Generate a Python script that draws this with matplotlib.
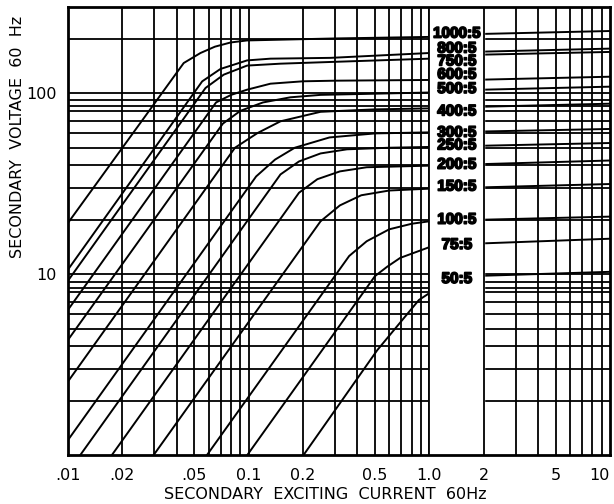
import matplotlib
matplotlib.use("Agg")
from matplotlib import pyplot as plt
from matplotlib.ticker import NullLocator
import matplotlib.patheffects as pe

# CT ratio labels, top to bottom
ratios = ["1000:5", "800:5", "750:5", "600:5", "500:5", "400:5", "300:5",
          "250:5", "200:5", "150:5", "100:5", "75:5", "50:5"]
# where each label sits (secondary volts)
label_volts = [213.8, 176.6, 150.1, 126.7, 105.6, 79.4, 60.5,
               51.5, 40.3, 30.5, 20.0, 14.5, 9.4]

# excitation curves: current (A) / voltage (V)
i_1000 = [0.01, 0.0437, 0.0541, 0.065, 0.0795, 0.098, 0.3, 1, 2, 10]
v_1000 = [19.2, 147, 167, 181, 191, 196, 201, 205, 213, 221]
i_800 = [0.01, 0.0553, 0.0698, 0.098, 0.132, 0.284, 1, 2, 10]
v_800 = [10.6, 116.4, 136.3, 152, 155.4, 157, 167, 170, 176.6]
i_750 = [0.01, 0.0577, 0.0728, 0.098, 0.15, 0.284, 1, 2, 10]
v_750 = [9.2, 107, 126.8, 142.3, 145.8, 149, 155.4, 163.6, 169.3]
i_600 = [0.01, 0.066, 0.08, 0.098, 0.132, 0.2, 0.3, 1, 2, 10]
v_600 = [6.35, 89, 98, 104.7, 113, 116.5, 117.4, 118.5, 119, 123.5]
i_500 = [0.01, 0.072, 0.09, 0.12, 0.17, 0.25, 1, 2, 10]
v_500 = [4.33, 68, 80, 89, 95, 98, 101, 104.7, 108.8]
i_400 = [0.01, 0.084, 0.112, 0.15, 0.25, 0.5, 1, 2, 10]
v_400 = [2.55, 50, 60.3, 70, 79, 81.5, 82.5, 84.3, 87.6]
i_300 = [0.01, 0.11, 0.14, 0.18, 0.28, 0.5, 1, 2, 10]
v_300 = [1.21, 34.7, 43, 50, 57, 60, 60.8, 61.5, 63.5]
i_250 = [0.0117, 0.15, 0.19, 0.25, 0.35, 0.6, 1, 2, 10]
v_250 = [1, 35.6, 42, 46.5, 49, 50, 50.5, 51.3, 53.1]
i_200 = [0.0175, 0.19, 0.24, 0.32, 0.45, 1, 2, 10]
v_200 = [1, 28.2, 33.5, 37, 39, 39.8, 40.6, 42.5]
i_150 = [0.0298, 0.25, 0.32, 0.42, 0.6, 1, 2, 10]
v_150 = [1, 19.6, 24, 27.3, 29, 29.7, 30.2, 31.5]
i_100 = [0.0588, 0.36, 0.45, 0.6, 0.8, 1, 2, 10]
v_100 = [1, 12.6, 15.2, 17.7, 19, 19.6, 20.0, 20.8]
i_75 = [0.0983, 0.5, 0.585, 0.69, 1, 2, 10]
v_75 = [1, 9.75, 11.0, 12.3, 14.1, 14.8, 15.7]
i_50 = [0.2013, 0.515, 0.876, 1, 2, 10]
v_50 = [1, 3.8, 7.2, 7.85, 9.8, 10.3]

curves = [(i_1000, v_1000), (i_800, v_800), (i_750, v_750), (i_600, v_600),
          (i_500, v_500), (i_400, v_400), (i_300, v_300), (i_250, v_250),
          (i_200, v_200), (i_150, v_150), (i_100, v_100), (i_75, v_75),
          (i_50, v_50)]

# grid of the printed log paper
x_grid = [0.02, 0.03, 0.04, 0.05, 0.06, 0.07, 0.08, 0.09,
          0.1, 0.2, 0.3, 0.4, 0.5, 0.6, 0.7, 0.8, 0.9,
          1, 2, 3, 4, 5, 6, 7, 8, 9]
y_grid = [2, 3, 4, 5, 6, 7, 8, 8.4, 9, 10,
          20, 30, 40, 50, 60, 70, 80, 85.4, 92.2, 100, 200]

xtick_vals = [0.01, 0.02, 0.05, 0.1, 0.2, 0.5, 1, 2, 5, 10]
xtick_labels = [".01", ".02", ".05", "0.1", "0.2", "0.5", "1.0", "2", "5", "10"]
ytick_vals = [10, 100]
ytick_labels = ["10", "100"]

fig = plt.figure(figsize=(6.14, 5.04), dpi=100)
ax = fig.add_axes([68 / 614, 1 - 455 / 504, 542 / 614, 448 / 504])
ax.set_xscale("log")
ax.set_yscale("log")
ax.set_xlim(0.01, 10)
ax.set_ylim(1, 300)

for x in x_grid:
    ax.axvline(x, color="black", lw=1.3, zorder=1)
for y in y_grid:
    ax.axhline(y, color="black", lw=1.3, zorder=1)

for cur, volt in curves:
    ax.plot(cur, volt, color="black", lw=1.4, zorder=2, solid_joinstyle="round")

# blank column for the ratio labels
ax.axvspan(1, 2, color="white", zorder=3)
ax.axvline(1, color="black", lw=1.3, zorder=4)
ax.axvline(2, color="black", lw=1.3, zorder=4)

for name, v in zip(ratios, label_volts):
    ax.text(1.42, v, name, ha="center", va="center", fontsize=11,
            fontweight="bold", family="Liberation Sans", zorder=5,
            path_effects=[pe.withStroke(linewidth=1.2, foreground="black")])

ax.set_xticks(xtick_vals)
ax.set_xticklabels(xtick_labels)
ax.set_yticks(ytick_vals)
ax.set_yticklabels(ytick_labels)
ax.xaxis.set_minor_locator(NullLocator())
ax.yaxis.set_minor_locator(NullLocator())
ax.tick_params(length=0, labelsize=11.5)
ax.tick_params(axis="x", pad=9)
ax.tick_params(axis="y", pad=8)
ax.get_xticklabels()[-1].set_horizontalalignment("right")

for s in ax.spines.values():
    s.set_linewidth(2)
    s.set_zorder(6)

ax.set_xlabel("SECONDARY  EXCITING  CURRENT  60Hz", fontsize=11.5)
ax.xaxis.set_label_coords(0.474, -0.072)
ax.set_ylabel("SECONDARY  VOLTAGE  60  Hz", fontsize=11.5)
ax.yaxis.set_label_coords(-0.08, 0.71)

fig.savefig("out.png", dpi=100)
